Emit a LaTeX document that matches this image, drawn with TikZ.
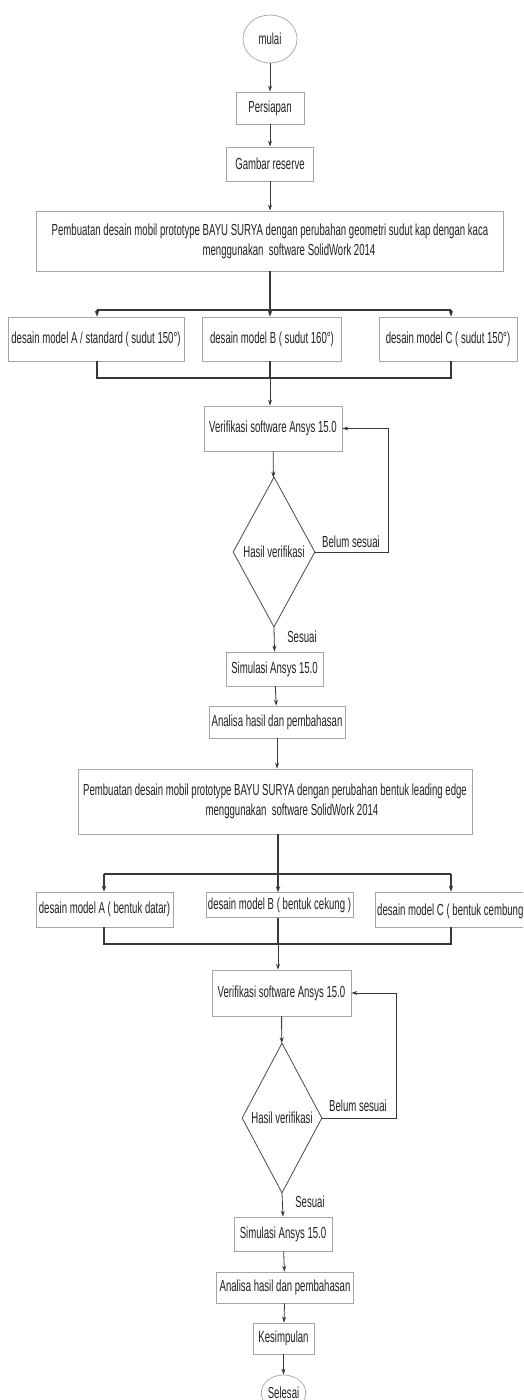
\documentclass[tikz,border=0pt]{standalone}
\usepackage{fontspec}
\setmainfont{Liberation Sans}[FakeStretch=0.6]
\usetikzlibrary{shapes.geometric,arrows.meta}
\definecolor{boxc}{HTML}{A6A6A6}
\definecolor{decc}{HTML}{4A4A4A}
\definecolor{linec}{HTML}{383838}
\definecolor{txtc}{HTML}{222222}
\begin{document}
\begin{tikzpicture}[x=1pt,y=-1pt,
  box/.style={draw=boxc, line width=0.7pt, rectangle, inner sep=0pt, align=center, text=txtc, font=\fontsize{16}{20}\selectfont},
  term/.style={box, ellipse},
  dec/.style={box, diamond, aspect=0.55, draw=decc, line width=0.8pt},
  lbl/.style={inner sep=0pt, text=txtc, font=\fontsize{16}{20}\selectfont},
  arr/.style={draw=linec, line width=0.8pt, -{Stealth[length=6pt,width=4pt]}},
  bus/.style={draw=linec, line width=1.3pt},
  busarr/.style={bus, -{Stealth[length=6pt,width=4.5pt]}}
]
\clip (0,0) rectangle (523,1400);
\fill[white] (0,0) rectangle (523,1400);

% ---- part 1
\node[term, minimum width=54, minimum height=48] (mulai) at (270,39) {mulai};
\node[box, minimum width=68, minimum height=32] (pers) at (270,108) {Persiapan};
\node[box, minimum width=87, minimum height=34] (gamb) at (270,164) {Gambar reserve};
\node[box, minimum width=467, minimum height=60] (pemb1) at (270,241)
  {Pembuatan desain mobil prototype BAYU SURYA dengan perubahan geometri sudut kap dengan kaca\\\hspace*{38pt}menggunakan\ \ software SolidWork 2014};
\node[box, minimum width=176, minimum height=44] (a1) at (96,339) {desain model A / standard ( sudut 150°)};
\node[box, minimum width=139, minimum height=44] (b1) at (272,339) {desain model B ( sudut 160°)};
\node[box, minimum width=138, minimum height=44] (c1) at (448,339) {desain model C ( sudut 150°)};
\node[box, minimum width=138, minimum height=45] (ver1) at (273,428.5) {Verifikasi software Ansys 15.0};
\node[dec, minimum width=82, minimum height=150] (dia1) at (274,552) {Hasil verifikasi};
\node[box, minimum width=97, minimum height=34] (sim1) at (274.5,669) {Simulasi Ansys 15.0};
\node[box, minimum width=136, minimum height=32] (ana1) at (277,722) {Analisa hasil dan pembahasan};

\draw[arr] (mulai) -- (pers);
\draw[arr] (pers) -- (gamb);
\draw[arr] (gamb) -- (pemb1);

\coordinate (s1) at (270,310);
\coordinate (s1L) at (97,310);
\coordinate (s1R) at (451,310);
\draw[bus] (pemb1.south -| s1) -- (s1);
\draw[bus] (s1L) -- (s1R);
\draw[busarr] (s1L) -- (s1L |- a1.north);
\draw[busarr] (s1) -- (s1 |- b1.north);
\draw[busarr] (s1R) -- (s1R |- c1.north);

\coordinate (m1) at (270,378);
\coordinate (m1L) at (97,378);
\coordinate (m1R) at (451,378);
\draw[bus] (m1L |- a1.south) -- (m1L) -- (m1R) -- (m1R |- c1.south);
\draw[bus] (m1 |- b1.south) -- (m1);
\draw[arr] (m1) -- (m1 |- ver1.north);

\draw[arr] (ver1) -- (dia1);
\draw[arr] (dia1.east) -- ++(73,0) |- (ver1.east);
\node[lbl] (bs1) at (351,542) {Belum sesuai};
\draw[arr] (dia1.south) -- (sim1.north);
\node[lbl] (ss1) at (302,637) {Sesuai};
\draw[arr] (sim1) -- (ana1);

% ---- part 2
\node[box, minimum width=394, minimum height=65] (pemb2) at (275,801.5)
  {Pembuatan desain mobil prototype BAYU SURYA dengan perubahan bentuk leading edge\\\hspace*{34pt}menggunakan\ \ software SolidWork 2014};
\draw[arr] (ana1.south) -- (ana1.south |- pemb2.north);

\node[box, minimum width=137, minimum height=35] (a2) at (104.5,909.5) {desain model A ( bentuk datar)};
\node[box, minimum width=147, minimum height=25] (b2) at (279.5,905) {desain model B ( bentuk cekung )};
\node[box, anchor=west, minimum width=170, minimum height=35] (c2) at (375,909.5) {};
\node[lbl, anchor=west] (c2t) at (377,911) {desain model C ( bentuk cembung};

\coordinate (s2) at (278,874);
\coordinate (s2L) at (104,874);
\coordinate (s2R) at (451,874);
\draw[bus] (pemb2.south -| s2) -- (s2);
\draw[bus] (s2L) -- (s2R);
\draw[busarr] (s2L) -- (s2L |- a2.north);
\draw[busarr] (s2) -- (s2 |- b2.north);
\draw[busarr] (s2R) -- (s2R |- c2.north);

\coordinate (m2) at (278,944);
\coordinate (m2L) at (104,944);
\coordinate (m2R) at (451,944);
\draw[bus] (m2L |- a2.south) -- (m2L) -- (m2R) -- (m2R |- c2.south);
\draw[bus] (m2 |- b2.south) -- (m2);

\node[box, minimum width=139, minimum height=46] (ver2) at (281.5,993) {Verifikasi software Ansys 15.0};
\draw[arr] (m2) -- (m2 |- ver2.north);
\node[dec, minimum width=80, minimum height=150] (dia2) at (282,1118) {Hasil verifikasi};
\draw[arr] (ver2) -- (dia2);
\draw[arr] (dia2.east) -- ++(74,0) |- (ver2.east);
\node[lbl] (bs2) at (358,1106) {Belum sesuai};
\node[box, minimum width=98, minimum height=34] (sim2) at (283,1234) {Simulasi Ansys 15.0};
\draw[arr] (dia2.south) -- (sim2.north);
\node[lbl] (ss2) at (310,1202) {Sesuai};
\node[box, minimum width=137, minimum height=31] (ana2) at (285,1287.5) {Analisa hasil dan pembahasan};
\node[box, minimum width=61, minimum height=31] (kes) at (283.5,1338.5) {Kesimpulan};
\node[term, minimum width=43, minimum height=36] (sel) at (283.5,1393) {Selesai};
\draw[arr] (sim2) -- (ana2);
\draw[arr] (ana2) -- (kes);
\draw[arr] (kes) -- (sel);
\end{tikzpicture}
\end{document}
